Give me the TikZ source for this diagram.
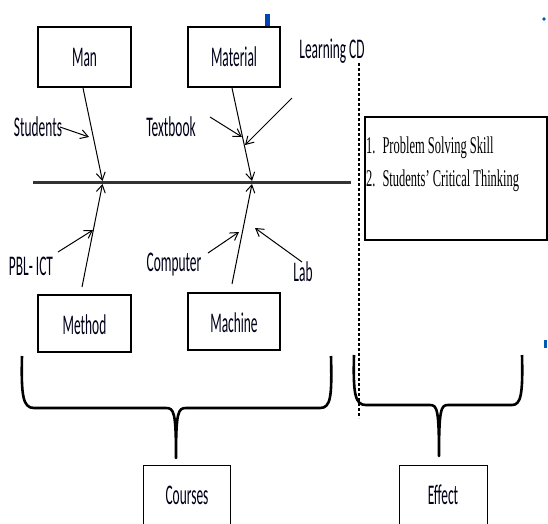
\documentclass[tikz,border=0pt]{standalone}
\usepackage{fontspec}
\newfontfamily\labfont[FakeStretch=0.47]{Carlito}
\newfontfamily\serfont[FakeStretch=0.52]{Liberation Serif}
\usetikzlibrary{arrows.meta}
\begin{document}
\begin{tikzpicture}[x=1pt,y=-1pt,
  box/.style={draw,line width=1.1pt,inner sep=0pt},
  lbl/.style={font=\labfont\fontsize{28.5}{30}\selectfont,inner sep=0pt,text=black!90!blue},
  bone/.style={line width=1pt,-{Straight Barb[length=7.5pt,width=9pt,line width=1pt]}},
  brace/.style={line width=2.6pt,line join=round}]
\useasboundingbox (0,0) rectangle (548,523);
% boxes
\node[box,minimum width=93pt,minimum height=60pt] (man) at (84.5,57) {};
\node[lbl] at (man.center) {Man};
\node[box,minimum width=92pt,minimum height=60pt] (mat) at (234,57) {};
\node[lbl] at (mat.center) {Material};
\node[box,minimum width=93pt,minimum height=57pt] (met) at (84.5,323.5) {};
\node[lbl] at (84.5,325) {Method};
\node[box,minimum width=92pt,minimum height=57pt] (mac) at (234,321.5) {};
\node[lbl] at (234,323) {Machine};
\node[box,line width=1pt,minimum width=87pt,minimum height=60pt] (cou) at (186.5,495) {};
\node[lbl] at (187,495) {Courses};
\node[box,line width=1pt,minimum width=88pt,minimum height=60pt] (eff) at (443,495) {};
\node[lbl] at (443,495) {Effect};
% effect text box
\draw[line width=1.1pt] (365,117) rectangle (547,240);
\node[font=\serfont\fontsize{24}{26}\selectfont,anchor=base west,inner sep=0pt] (p1) at (366,153) {1.\hspace{7pt}Problem Solving Skill};
\node[font=\serfont\fontsize{24}{26}\selectfont,anchor=base west,inner sep=0pt] (p2) at (366,186) {2.\hspace{7pt}Students’ Critical Thinking};
% labels
\node[lbl] (stu) at (38,127) {Students};
\node[lbl] (tex) at (171,127) {Textbook};
\node[lbl] (lcd) at (332,51) {Learning CD};
\node[lbl] (pbl) at (31,266) {PBL- ICT};
\node[lbl] (com) at (174,265) {Computer};
\node[lbl] (lab) at (303,272) {Lab};
% spine
\coordinate (s0) at (33,182);
\coordinate (s1) at (351,182);
\draw[line width=3pt,black!80] (s0) -- (s1);
% coordinates on bones
\coordinate (manS) at (83,88);
\coordinate (manE) at (102.5,181);
\coordinate (matS) at (232,88);
\coordinate (matE) at (252,181);
\coordinate (metS) at (82,287);
\coordinate (metE) at (102.5,184);
\coordinate (macS) at (232,284);
\coordinate (macE) at (252,184);
\draw[bone] (manS) -- (manE);
\draw[bone] (matS) -- (matE);
\draw[bone] (metS) -- (metE);
\draw[bone] (macS) -- (macE);
% cause arrows
\coordinate (stuS) at (60,127);
\coordinate (stuE) at (89,137);
\coordinate (texS) at (210,117);
\coordinate (texE) at (242,137);
\coordinate (lcdS) at (292,98);
\coordinate (lcdE) at (245,145);
\coordinate (pblS) at (58,252);
\coordinate (pblE) at (93,230);
\coordinate (comS) at (208,253);
\coordinate (comE) at (239,232);
\coordinate (labS) at (302,262);
\coordinate (labE) at (255,228);
\foreach \a in {stu,tex,lcd,pbl,com,lab}{\draw[bone] (\a S) -- (\a E);}
% dotted divider
\draw[line width=1.4pt,dash pattern=on 3pt off 2pt] (359,63) -- (359,418);
% braces
\coordinate (cB) at (176,458);
\coordinate (eB) at (439,456);
\draw[brace] (22,356) .. controls (21,396) and (23,408) .. (34,408) -- (166,408)
  .. controls (174,408) and (176,412) .. (cB)
  .. controls (176,412) and (178,408) .. (186,408) -- (320,408)
  .. controls (331,408) and (332,396) .. (331,356);
\draw[brace] (354,355) .. controls (353,394) and (355,405) .. (366,405) -- (430,405)
  .. controls (437,405) and (439,409) .. (eB)
  .. controls (439,409) and (441,405) .. (448,405) -- (512,405)
  .. controls (521,405) and (523,394) .. (522,355);
% small blue marks
\fill[blue!60!cyan!70!black] (265,14) rectangle (270,26);
\fill[blue!50!cyan!70!black] (544,19) circle (1.8pt);
\fill[blue!50!cyan!70!black] (544,340) rectangle (547,348);
\end{tikzpicture}
\end{document}
